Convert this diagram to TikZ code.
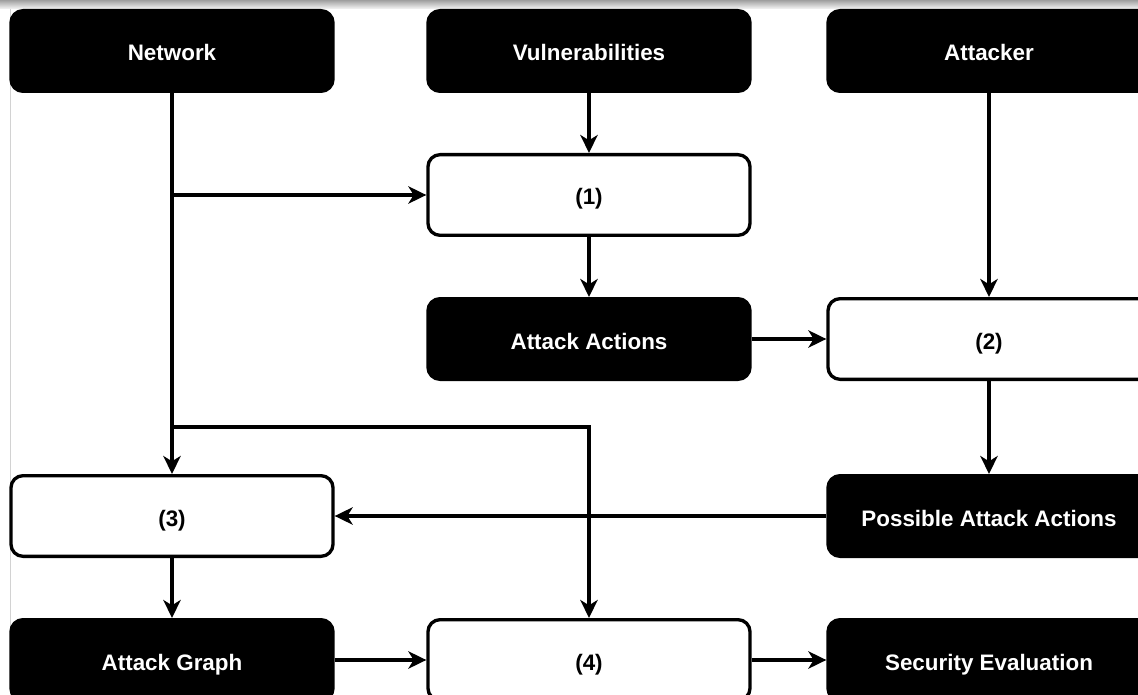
\documentclass[tikz,border=0pt]{standalone}
\usepackage{fontspec}
\setmainfont{Liberation Sans}
\usetikzlibrary{arrows.meta}

\tikzset{
  box/.style={draw=black, line width=2.5pt, rounded corners=9pt,
    minimum width=241.5pt, minimum height=60.5pt, inner sep=0pt,
    text height=16pt, text depth=1pt,
    font=\bfseries\fontsize{16.8pt}{19pt}\selectfont, align=center},
  datum/.style={box, fill=black, text=white},
  process/.style={box, fill=white, text=black},
  flow/.style={line width=2.5pt,
    -{Stealth[length=13.5pt, width=13pt, inset=4pt]}},
}

\begin{document}
\begin{tikzpicture}[x=0.75pt, y=-0.75pt]
  \useasboundingbox (0,0) rectangle (1138,695);
  \fill[white] (0,0) rectangle (1138,695);
  \clip (0,0) rectangle (1138,695);

  % window chrome: shaded strip along the top and a faint left edge
  \shade[top color=gray!75, bottom color=gray!10] (0,0) rectangle (1138,8.5);
  \draw[gray!35, line width=0.75pt] (10,9) -- (10,695);

  % inputs
  \node[datum] (net)  at (172,51) {Network};
  \node[datum] (vul)  at (589,51) {Vulnerabilities};
  \node[datum] (att)  at (989,51) {Attacker};

  % processing steps and intermediate results
  \node[process] (p1) at (589,195) {(1)};
  \node[datum]   (aa) at (589,339) {Attack Actions};
  \node[process] (p2) at (989,339) {(2)};
  \node[process] (p3) at (172,516) {(3)};
  \node[datum]   (pa) at (989,516) {Possible Attack Actions};
  \node[datum]   (ag) at (172,660) {Attack Graph};
  \node[process] (p4) at (589,660) {(4)};
  \node[datum]   (se) at (989,660) {Security Evaluation};

  % branch points on the network trunk
  \coordinate (b1) at (172,195);
  \coordinate (b2) at (172,427);

  \draw[flow] (net) -- (p3);
  \draw[flow] (b1) -- (p1);
  \draw[flow] (b2) -| (p4);
  \draw[flow] (vul) -- (p1);
  \draw[flow] (p1) -- (aa);
  \draw[flow] (aa) -- (p2);
  \draw[flow] (att) -- (p2);
  \draw[flow] (p2) -- (pa);
  \draw[flow] (pa) -- (p3);
  \draw[flow] (p3) -- (ag);
  \draw[flow] (ag) -- (p4);
  \draw[flow] (p4) -- (se);
\end{tikzpicture}
\end{document}
